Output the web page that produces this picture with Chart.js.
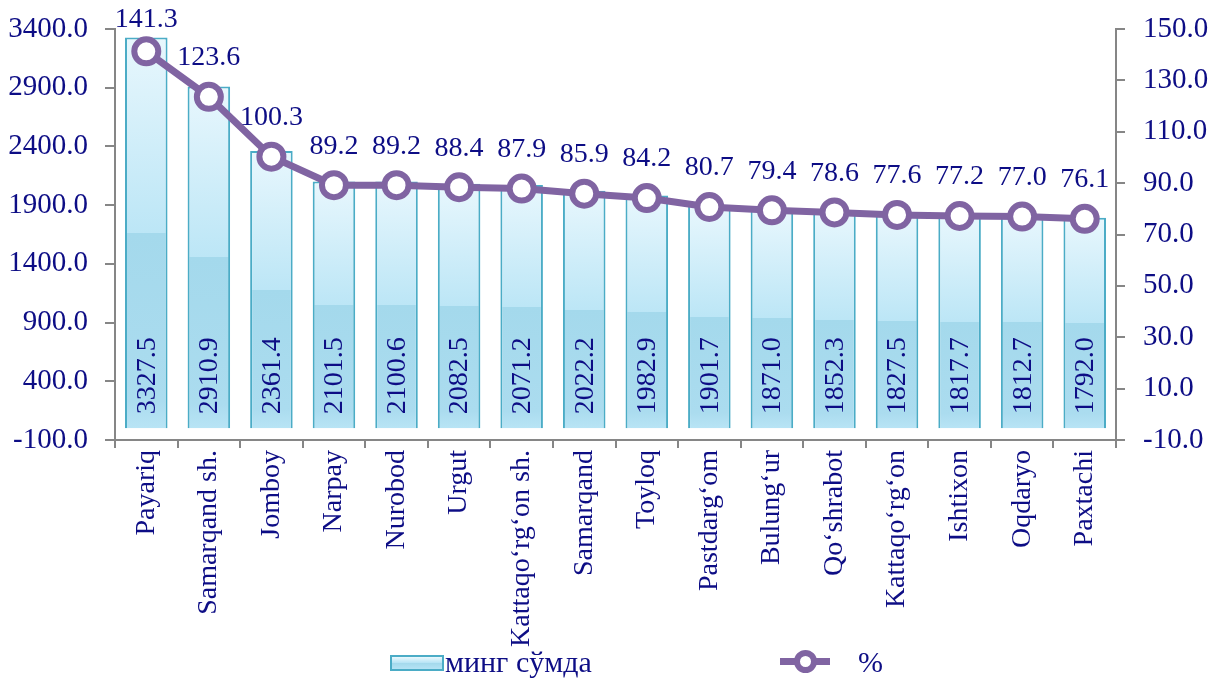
<!DOCTYPE html>
<html>
<head>
<meta charset="utf-8">
<script src="https://cdn.jsdelivr.net/npm/chart.js@4"></script>
<style>
  body { margin: 0; background: #fff; }
  #wrap { position: relative; width: 1209px; height: 680px; }
  #legend { position: absolute; left: 0; top: 645px; width: 1209px; height: 35px;
    font: 30px "Liberation Serif", serif; color: #0d0d85; }
  .sw { position: absolute; }
</style>
</head>
<body>
<div id="wrap">
  <canvas id="c" width="1209" height="680"></canvas>
  <div id="legend">
    <div class="sw" style="left:390px;top:10px;width:50px;height:12px;border:2px solid #4bacc6;background:linear-gradient(#eaf8fd,#b5e3f5 50%,#a3d9ec 50%,#b5e3f5);"></div>
    <div class="sw" style="left:445px;top:0px;">минг сўмда</div>
    <div class="sw" style="left:780px;top:13px;width:50px;height:7px;background:#8064a2;"></div>
    <div class="sw" style="left:794px;top:5px;width:11px;height:11px;border:6px solid #8064a2;border-radius:50%;background:#fff;"></div>
    <div class="sw" style="left:858px;top:0px;">%</div>
  </div>
</div>
<script>
const categories = ["Payariq", "Samarqand sh.", "Jomboy", "Narpay", "Nurobod", "Urgut",
  "Kattaqo\u2018rg\u2018on sh.", "Samarqand", "Toyloq", "Pastdarg\u2018om", "Bulung\u2018ur",
  "Qo\u2018shrabot", "Kattaqo\u2018rg\u2018on", "Ishtixon", "Oqdaryo", "Paxtachi"];
const sums = [3327.5, 2910.9, 2361.4, 2101.5, 2100.6, 2082.5, 2071.2, 2022.2, 1982.9,
  1901.7, 1871.0, 1852.3, 1827.5, 1817.7, 1812.7, 1792.0];
const percents = [141.3, 123.6, 100.3, 89.2, 89.2, 88.4, 87.9, 85.9, 84.2, 80.7, 79.4,
  78.6, 77.6, 77.2, 77.0, 76.1];

const navy = "#0d0d85";
const family = "'Liberation Serif', 'Times New Roman', serif";
const axisFont = { family: family, size: 29 };
const catFont = { family: family, size: 28 };
const labelSize = 28;

function barFill(c) {
  const chart = c.chart;
  const y = chart.scales.y;
  if (c.type !== "data" || !y || !chart.chartArea) return "#bfe6f5";
  const top = y.getPixelForValue(c.raw);
  const base = y.getPixelForValue(0);
  const g = chart.ctx.createLinearGradient(0, top, 0, base);
  g.addColorStop(0, "#e8f7fd");
  g.addColorStop(0.5, "#bce6f6");
  g.addColorStop(0.5, "#a4d9ec");
  g.addColorStop(0.93, "#abdcef");
  g.addColorStop(1, "#b8e4f5");
  return g;
}

// dataset 0 = line (%), dataset 1 = bars
const valueLabels = {
  id: "valueLabels",
  afterDatasetsDraw(chart) {
    const ctx = chart.ctx;
    ctx.save();
    ctx.fillStyle = navy;
    ctx.font = labelSize + "px " + family;
    const bars = chart.getDatasetMeta(1).data;
    bars.forEach((b, i) => {
      ctx.save();
      ctx.translate(b.x, b.base - 14);
      ctx.rotate(-Math.PI / 2);
      ctx.textAlign = "left";
      ctx.textBaseline = "middle";
      ctx.fillText(sums[i].toFixed(1), 0, 1);
      ctx.restore();
    });
    const pts = chart.getDatasetMeta(0).data;
    ctx.textAlign = "center";
    ctx.textBaseline = "bottom";
    pts.forEach((p, i) => {
      const yy = Math.max(p.y - 25, 34);
      ctx.fillText(percents[i].toFixed(1), p.x, yy);
    });
    ctx.restore();
  }
};

function fixY(width) {
  return s => { s.width = width; s.paddingTop = 29; s.paddingBottom = 0; };
}

new Chart(document.getElementById("c"), {
  data: {
    labels: categories,
    datasets: [{
      type: "line",
      label: "%",
      data: percents,
      yAxisID: "y1",
      borderColor: "#8064a2",
      borderWidth: 7,
      pointRadius: 12,
      pointBorderWidth: 6,
      pointBackgroundColor: "#fff",
      pointBorderColor: "#8064a2",
      order: 0
    }, {
      type: "bar",
      label: "минг сўмда",
      data: sums,
      yAxisID: "y",
      backgroundColor: barFill,
      borderColor: "#4bacc6",
      borderWidth: 2,
      barPercentage: 0.68,
      categoryPercentage: 1,
      order: 1
    }]
  },
  options: {
    responsive: false,
    animation: false,
    layout: { padding: 0 },
    plugins: { legend: { display: false }, tooltip: { enabled: false } },
    scales: {
      x: {
        offset: true,
        grid: { offset: true, drawOnChartArea: false, tickLength: 8, color: "#868686", lineWidth: 2 },
        border: { color: "#868686", width: 2 },
        ticks: { color: navy, font: catFont, minRotation: 90, maxRotation: 90, padding: 2, autoSkip: false },
        afterFit(s) { s.height = 240; s.paddingLeft = 0; s.paddingRight = 0; }
      },
      y: {
        position: "left",
        min: -100, max: 3400,
        ticks: { stepSize: 500, color: navy, font: axisFont, padding: 17,
          callback: v => v.toFixed(1) },
        grid: { drawOnChartArea: false, tickLength: 10, color: "#868686", lineWidth: 2 },
        border: { color: "#868686", width: 2 },
        afterFit: fixY(115)
      },
      y1: {
        position: "right",
        min: -10, max: 150,
        ticks: { stepSize: 20, color: navy, font: axisFont, padding: 18,
          callback: v => v.toFixed(1) },
        grid: { drawOnChartArea: false, tickLength: 9, color: "#868686", lineWidth: 2 },
        border: { color: "#868686", width: 2 },
        afterFit: fixY(93)
      }
    }
  },
  plugins: [valueLabels]
});
</script>
</body>
</html>
